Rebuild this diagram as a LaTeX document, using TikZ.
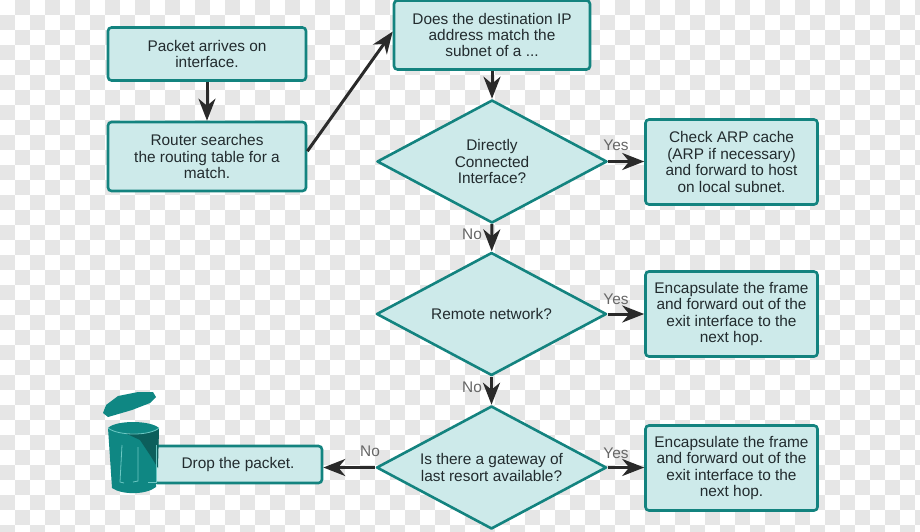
\documentclass[tikz,border=0pt]{standalone}
\usepackage{fontspec}
\setmainfont{Liberation Sans}
\usetikzlibrary{shapes.geometric,arrows.meta}
\definecolor{tealline}{HTML}{13837F}
\definecolor{tealfill}{HTML}{CDEAEA}
\definecolor{canbody}{HTML}{0F8783}
\definecolor{canshade}{HTML}{0C5F5C}
\definecolor{canlight}{HTML}{6CC8C3}
\definecolor{checker}{HTML}{E6E6E6}
\definecolor{inktext}{HTML}{222B2E}
\definecolor{arrowink}{HTML}{2A2A2A}
\tikzset{
  every node/.style={font=\fontsize{15.4}{16.4}\selectfont,text=inktext,align=center,inner sep=0pt},
  stepbox/.style={draw=tealline,fill=tealfill,line width=2.6pt,rounded corners=3.5pt,minimum width=#1},
  stepbox/.default=172pt,
  testbox/.style={diamond,draw=tealline,fill=tealfill,line width=2.6pt,line join=round,minimum width=230pt,minimum height=123pt,aspect=1.9},
  flow/.style={draw=arrowink,line width=3pt,-{Stealth[length=22pt,width=17pt,inset=7pt]}},
  answer/.style={text=black!60},
}
\begin{document}
\begin{tikzpicture}[x=1pt,y=-1pt]
\useasboundingbox (0,0) rectangle (920,531);
% checkered backdrop
\fill[white] (0,0) rectangle (920,531);
\foreach \i in {0,...,61}{
  \foreach \j in {0,...,35}{
    \pgfmathparse{int(mod(\i+\j,2))}
    \ifnum\pgfmathresult=1
      \fill[checker] (15*\i,15*\j) rectangle ++(15,15);
    \fi
  }
}
% left column
\node[stepbox=198pt,minimum height=53pt] (packet) at (207,54) {Packet arrives on\\interface.};
\node[stepbox=198pt,minimum height=69pt] (router) at (207,156.5) {Router searches\\the routing table for a\\match.};
% middle column
\node[stepbox=196pt,minimum height=69pt] (dest) at (492,35) {Does the destination IP\\address match the\\subnet of a ...};
\node[testbox] (direct) at (492,161.5) {Directly\\Connected\\Interface?};
\node[testbox] (remote) at (491.5,314) {Remote network?};
\node[testbox] (gateway) at (491.5,467.5) {Is there a gateway of\\last resort available?};
% right column
\node[stepbox,minimum height=85pt] (arp) at (731.5,162) {Check ARP cache\\(ARP if necessary)\\and forward to host\\on local subnet.};
\node[stepbox,minimum height=85pt] (frameA) at (731.5,314) {Encapsulate the frame\\and forward out of the\\exit interface to the\\next hop.};
\node[stepbox,minimum height=85pt] (frameB) at (731.5,468) {Encapsulate the frame\\and forward out of the\\exit interface to the\\next hop.};
% drop
\node[stepbox=168pt,minimum height=37pt] (drop) at (238,464.5) {Drop the packet.};
% connectors
\draw[flow] (packet) -- (router);
\draw[flow] (router.3) -- (dest.178);
\draw[flow] (dest) -- (direct);
\draw[flow] (direct) -- (remote);
\draw[flow] (remote) -- (gateway);
\draw[flow] (direct.east) -- (direct.east -| arp.west);
\draw[flow] (remote.east) -- (remote.east -| frameA.west);
\draw[flow] (gateway.east) -- (gateway.east -| frameB.west);
\draw[flow] (gateway.west) -- (gateway.west -| drop.east);
\node[answer] (yesA) at (616,145) {Yes};
\node[answer] (yesB) at (616,299) {Yes};
\node[answer] (yesC) at (616,453) {Yes};
\node[answer] (noA) at (472,234) {No};
\node[answer] (noB) at (472,387) {No};
\node[answer] (noC) at (370,451) {No};
% trash can
\fill[canbody] (103,413) -- (106,405) -- (118,396) -- (138,392) -- (153,392) -- (156,397) -- (150,403) -- (132,410) -- (108,417) -- cycle;
\fill[canbody] (108,428) -- (112,488) .. controls (122,495) and (146,495) .. (156,487) -- (159,428) .. controls (150,420) and (116,420) .. cycle;
\fill[canshade] (125,433) .. controls (140,435) and (152,433) .. (159,429) -- (158,468) -- (150,455) -- (140,440) -- cycle;
\draw[canlight,line width=.8pt] (108,428) .. controls (118,436) and (150,436) .. (159,428);
\draw[canlight,line width=.8pt] (122,445) -- (120,482) -- (124,483);
\draw[canlight,line width=.8pt] (138,447) -- (138,481) -- (133,482);
\draw[canlight,line width=.8pt] (156,445) -- (156,482) -- (148,482);
\end{tikzpicture}
\end{document}
